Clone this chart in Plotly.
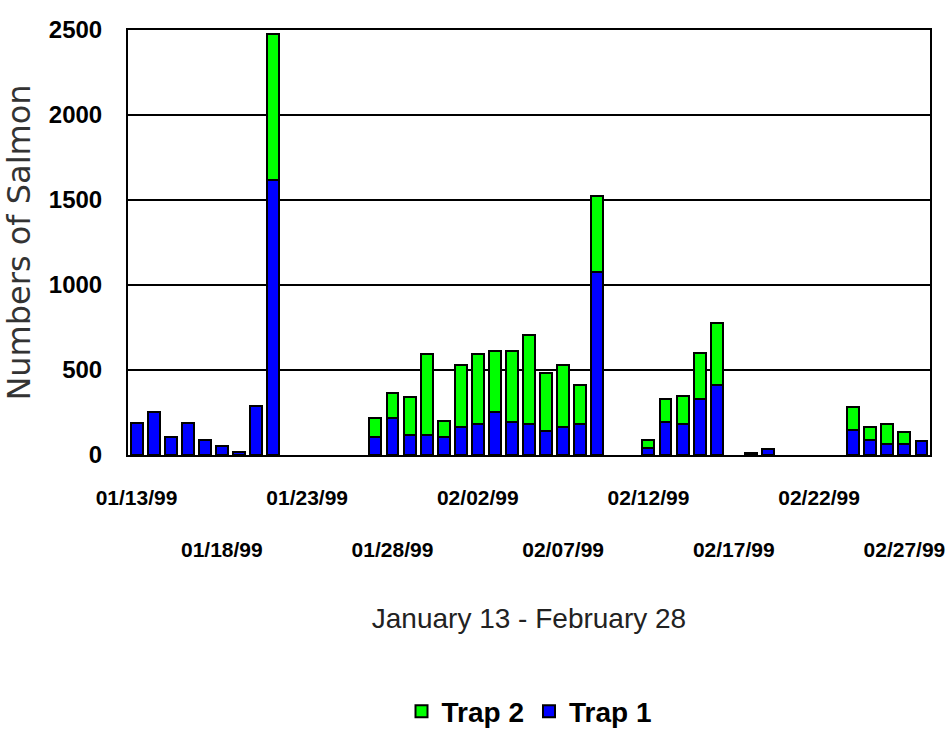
import pandas as pd
import plotly.graph_objects as go

dates = pd.date_range("1999-01-13", "1999-02-28", freq="D")

# None = no catch recorded (no bar drawn)
trap1 = [187, 255, 108, 187, 88, 55, 20, 288, 1620,
         None, None, None, None, None,
         104, 216, 118, 118, 104, 163, 180, 251, 196, 180, 143, 163, 180, 1078,
         None, None,
         40, 196, 182, 329, 412,
         None, 12, 35, None, None, None, None,
         147, 88, 65, 65, 85]
trap2 = [0, 0, 0, 0, 0, 0, 0, 0, 855,
         None, None, None, None, None,
         112, 147, 225, 476, 96, 364, 414, 361, 416, 526, 341, 364, 232, 446,
         None, None,
         48, 133, 165, 269, 363,
         None, 0, 0, None, None, None, None,
         137, 75, 117, 72, 0]

row1_ticks = ["1999-01-13", "1999-01-23", "1999-02-02", "1999-02-12", "1999-02-22"]
row2_ticks = ["1999-01-18", "1999-01-28", "1999-02-07", "1999-02-17", "1999-02-27"]
row1_text = ["01/13/99", "01/23/99", "02/02/99", "02/12/99", "02/22/99"]
row2_text = ["01/18/99", "01/28/99", "02/07/99", "02/17/99", "02/27/99"]

BOLD = "Liberation Sans, Arial, sans-serif"

fig = go.Figure()
fig.add_trace(go.Bar(x=dates, y=trap1, name="Trap 1",
                     marker=dict(color="#0000ff", line=dict(color="black", width=2))))
fig.add_trace(go.Bar(x=dates, y=trap2, name="Trap 2",
                     marker=dict(color="#00ff00", line=dict(color="black", width=2))))
# carrier trace so the second (staggered) date-label axis is drawn
fig.add_trace(go.Scatter(x=[dates[0]], y=[None], xaxis="x2", yaxis="y",
                         showlegend=False, hoverinfo="skip", mode="markers"))

xrange = ["1999-01-12 12:00", "1999-02-28 12:00"]
tickfont = dict(family=BOLD, size=21, color="black", weight="bold")

fig.update_layout(
    width=948, height=735,
    barmode="stack", bargap=0.3,
    plot_bgcolor="white", paper_bgcolor="white",
    margin=dict(l=128, r=18, t=30, b=280),
    showlegend=True,
    legend=dict(orientation="h", traceorder="reversed", x=0.5, xanchor="center",
                yref="container", y=0.032, yanchor="middle",
                font=dict(family=BOLD, size=28, color="black", weight="bold")),
    xaxis=dict(type="date", range=xrange, tickvals=row2_ticks, ticktext=row2_text,
               ticks="", ticklabelstandoff=75, automargin=False, tickfont=tickfont,
               showgrid=False, showline=True, linecolor="black", linewidth=2, mirror=True,
               title=dict(text="January 13 - February 28", standoff=48,
                          font=dict(family="Liberation Sans, Arial, sans-serif", size=28, color="#222"))),
    xaxis2=dict(type="date", range=xrange, overlaying="x", matches="x", anchor="y", side="bottom",
                tickvals=row1_ticks, ticktext=row1_text, ticks="", ticklabelstandoff=28,
                automargin=False, tickfont=tickfont, showgrid=False, showline=False, zeroline=False),
    yaxis=dict(range=[0, 2500], dtick=500, ticks="", ticklabelstandoff=19, automargin=False,
               tickfont=dict(family=BOLD, size=24, color="black", weight="bold"),
               showgrid=True, gridcolor="black", gridwidth=2,
               showline=True, linecolor="black", linewidth=2, mirror=True, zeroline=False,
               title=dict(text="Numbers of Salmon", standoff=12,
                          font=dict(family="DejaVu Sans, sans-serif", size=32, color="#333"))),
)

fig.write_html("out.html", config={"displayModeBar": False},
               post_script="document.body.style.margin='0';document.body.style.overflow='hidden';")
